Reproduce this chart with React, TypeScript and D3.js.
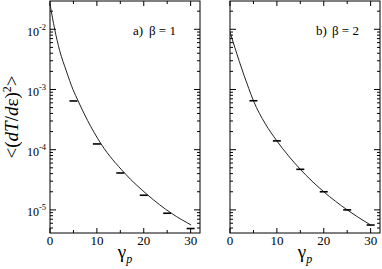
import * as d3 from 'd3'

// gamma_p values of the simulation points
const pointGamma = [5, 10, 15, 20, 25, 30]
const pointsA = [6.44e-4, 1.245e-4, 4.1e-5, 1.75e-5, 8.79e-6, 4.9e-6]
const pointsB = [6.5e-4, 1.4e-4, 4.72e-5, 2.0e-5, 1.0e-5, 5.6e-6]

// theory curves
const curveGammaA = [0, 1, 2.06, 3.48, 4.9, 6, 8, 10.9, 15.9, 20.9, 25.9, 30.1]
const curveA = [2.63e-2, 1.0e-2, 4.44e-3, 2.03e-3, 1.0e-3, 6.44e-4, 3.07e-4, 1.245e-4, 4.1e-5, 1.75e-5, 8.79e-6, 5.61e-6]
const curveGammaB = [0, 2, 4, 5, 7.5, 10, 15, 20, 25, 30]
const curveB = [9.02e-3, 2.9e-3, 1.04e-3, 6.5e-4, 2.72e-4, 1.4e-4, 4.72e-5, 2.0e-5, 1.0e-5, 5.6e-6]

const xMajor = [0, 10, 20, 30]
const xMinor = [5, 15, 25]
const yExponents = [-2, -3, -4, -5]

const W = 382
const H = 269
const top = 1
const bottom = 233
const font = '"Liberation Serif", "Times New Roman", serif'

const y = d3.scaleLog().domain([4.13e-6, 0.0295]).range([bottom, top])

// minor log ticks 2..9 of every decade in range
const yMinor: number[] = []
for (let e = -6; e <= -2; e++) {
  for (let m = 2; m <= 9; m++) {
    const v = m * Math.pow(10, e)
    if (v > y.domain()[0] && v < y.domain()[1]) yMinor.push(v)
  }
}

function Panel({ id, x0, x1, label, labelX, gammas, values, cg, cv, yLabels }: any) {
  const x = d3.scaleLinear().domain([0, 32]).range([x0, x1])
  const line = d3.line<number>()
    .x((d, i) => x(cg[i]))
    .y(d => y(d))
    .curve(d3.curveMonotoneX)

  return (
    <g>
      <defs>
        <clipPath id={'clip-' + id}>
          <rect x={x0} y={top} width={x1 - x0} height={bottom - top} />
        </clipPath>
      </defs>
      <rect x={x0} y={top} width={x1 - x0} height={bottom - top} fill="none" stroke="#000" strokeWidth={1} />

      {/* x ticks, bottom and top, pointing inward */}
      {xMajor.map(t => (
        <g key={'xM' + t}>
          <line x1={x(t)} x2={x(t)} y1={bottom} y2={bottom - 5} stroke="#000" />
          <line x1={x(t)} x2={x(t)} y1={top} y2={top + 5} stroke="#000" />
          <text x={x(t)} y={245} textAnchor="middle" fontSize={13} fontFamily={font}>{t}</text>
        </g>
      ))}
      {xMinor.map(t => (
        <g key={'xm' + t}>
          <line x1={x(t)} x2={x(t)} y1={bottom} y2={bottom - 3} stroke="#000" />
          <line x1={x(t)} x2={x(t)} y1={top} y2={top + 3} stroke="#000" />
        </g>
      ))}

      {/* y ticks, left and right */}
      {yExponents.map(e => {
        const yy = y(Math.pow(10, e))
        return (
          <g key={'yM' + e}>
            <line x1={x0} x2={x0 + 6} y1={yy} y2={yy} stroke="#000" />
            <line x1={x1} x2={x1 - 6} y1={yy} y2={yy} stroke="#000" />
            {yLabels && (
              <text x={x0 - 4} y={yy + 6.5} textAnchor="end" fontSize={12} fontFamily={font}>
                10<tspan fontSize={8.5} dy={-6}>{'-' + -e}</tspan>
              </text>
            )}
          </g>
        )
      })}
      {yMinor.map((v, i) => (
        <g key={'ym' + i}>
          <line x1={x0} x2={x0 + 3} y1={y(v)} y2={y(v)} stroke="#000" />
          <line x1={x1} x2={x1 - 3} y1={y(v)} y2={y(v)} stroke="#000" />
        </g>
      ))}

      <path d={line(cv) || ''} fill="none" stroke="#222" strokeWidth={1} clipPath={`url(#clip-${id})`} />

      {gammas.map((g: number, i: number) => (
        <line key={'p' + i} x1={x(g) - 4} x2={x(g) + 4} y1={y(values[i])} y2={y(values[i])} stroke="#000" strokeWidth={1.6} />
      ))}

      <text x={labelX} y={35} fontSize={13} fontFamily={font}>{label[0]}</text>
      <text x={labelX + 16} y={35} fontSize={13} fontFamily={font}>{label[1]}</text>

      <text x={(x0 + x1) / 2} y={258} textAnchor="middle" fontFamily={font} fontSize={19}>
        γ<tspan fontSize={12} fontStyle="italic" dy={5}>p</tspan>
      </text>
    </g>
  )
}

export default function App() {
  return (
    <svg width={W} height={H} style={{ position: 'absolute', left: 0, top: 0, background: '#fff' }}>
      <Panel id="a" x0={50} x1={200} label={['a)', 'β = 1']} labelX={133} gammas={pointGamma} values={pointsA}
        cg={curveGammaA} cv={curveA} yLabels />
      <Panel id="b" x0={230} x1={380} label={['b)', 'β = 2']} labelX={316} gammas={pointGamma} values={pointsB}
        cg={curveGammaB} cv={curveB} yLabels={false} />
      <text transform="translate(18,117) rotate(-90)" textAnchor="middle" fontFamily={font} fontSize={19}>
        {'<('}<tspan fontStyle="italic">dT</tspan>/<tspan fontStyle="italic">d</tspan>ε)
        <tspan fontSize={12} dy={-7}>2</tspan><tspan dy={7}>{'>'}</tspan>
      </text>
    </svg>
  )
}
